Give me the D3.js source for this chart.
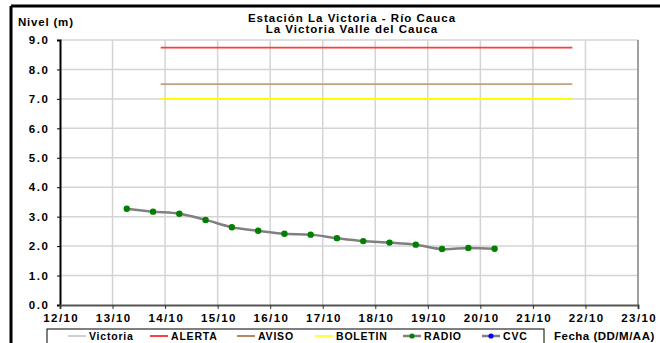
<!DOCTYPE html>
<html>
<head>
<meta charset="utf-8">
<script src="https://cdn.jsdelivr.net/npm/d3@7"></script>
<style>
  html, body { margin: 0; padding: 0; background: #fff; }
  svg { display: block; font-family: "Liberation Sans", Arial, sans-serif; font-weight: bold; }
</style>
</head>
<body>
<svg id="chart" width="660" height="343"></svg>
<script>
// Lecturas RADIO de la estación La Victoria (nivel en metros, cada 12 horas)
const fechasRadio = [
  "2011-10-13T06:30", "2011-10-13T18:30", "2011-10-14T06:30", "2011-10-14T18:30",
  "2011-10-15T06:30", "2011-10-15T18:30", "2011-10-16T06:30", "2011-10-16T18:30",
  "2011-10-17T06:30", "2011-10-17T18:30", "2011-10-18T06:30", "2011-10-18T18:30",
  "2011-10-19T06:30", "2011-10-19T18:30", "2011-10-20T06:30"
];
const nivelesRadio = [3.27, 3.17, 3.10, 2.89, 2.64, 2.52, 2.42, 2.39, 2.27, 2.17, 2.12, 2.05, 1.90, 1.94, 1.91];

// Umbrales de nivel
const umbralNombres = ["ALERTA", "AVISO", "BOLETIN"];
const umbralValores = [8.74, 7.5, 7.0];
const umbralColores = ["#ff3b3b", "#c4a07e", "#ffff00"];
const umbralInicio = "2011-10-13T22:00";
const umbralFin = "2011-10-21T18:00";

// Ejes
const dominioFechas = ["2011-10-12T00:00", "2011-10-23T00:00"];
const ticksNivel = [0, 1, 2, 3, 4, 5, 6, 7, 8, 9];

// Leyenda
const leyendaNombres = ["Victoria", "ALERTA", "AVISO", "BOLETIN", "RADIO", "CVC"];
const leyendaColores = ["#c0c0c0", "#ff0000", "#a0602a", "#ffff00", "#808080", "#808080"];
const leyendaMarcas = [null, null, null, null, "#008000", "#0000ff"];

const parse = d3.utcParse("%Y-%m-%dT%H:%M");
const svg = d3.select("#chart");

const m = { left: 60, right: 638, top: 40, bottom: 305 };
const x = d3.scaleUtc().domain(dominioFechas.map(parse)).range([m.left, m.right]);
const y = d3.scaleLinear().domain([0, 9]).range([m.bottom, m.top]);

// Marco exterior
svg.append("line").attr("x1", 11).attr("x2", 660).attr("y1", 6).attr("y2", 6)
  .attr("stroke", "#000").attr("stroke-width", 3);
svg.append("line").attr("x1", 11).attr("x2", 11).attr("y1", 6).attr("y2", 343)
  .attr("stroke", "#000").attr("stroke-width", 3);

// Cuadrícula
const dias = d3.utcDay.range(parse(dominioFechas[0]), d3.utcDay.offset(parse(dominioFechas[1]), 1));
svg.append("g").selectAll("line").data(dias.slice(1, -1)).join("line")
  .attr("x1", d => x(d)).attr("x2", d => x(d)).attr("y1", m.top).attr("y2", m.bottom)
  .attr("stroke", "#d4d4d4").attr("stroke-width", 1.5);
svg.append("g").selectAll("line").data(ticksNivel.slice(1)).join("line")
  .attr("x1", m.left).attr("x2", m.right).attr("y1", d => y(d)).attr("y2", d => y(d))
  .attr("stroke", "#d4d4d4").attr("stroke-width", 1.5);
// Borde derecho del área de trazado
svg.append("line").attr("x1", m.right).attr("x2", m.right).attr("y1", m.top).attr("y2", m.bottom)
  .attr("stroke", "#a0a0a0").attr("stroke-width", 2);

// Umbrales
umbralValores.forEach((v, i) => {
  svg.append("line")
    .attr("x1", x(parse(umbralInicio))).attr("x2", x(parse(umbralFin)))
    .attr("y1", y(v)).attr("y2", y(v))
    .attr("stroke", umbralColores[i]).attr("stroke-width", 1.6);
});

// Eje Y
const ejeY = svg.append("g").attr("transform", `translate(${m.left},0)`)
  .call(d3.axisLeft(y).tickValues(ticksNivel).tickFormat(d3.format(".1f")).tickSize(3).tickPadding(9));
ejeY.select(".domain").attr("stroke", "#000").attr("stroke-width", 2);
ejeY.selectAll(".tick line").attr("stroke", "#000");
ejeY.selectAll("text").attr("font-size", 11.5).attr("font-weight", "bold")
  .attr("font-family", "Liberation Sans, Arial, sans-serif").attr("fill", "#000")
  .attr("letter-spacing", 1.6).attr("dx", 1.6);

// Eje X
const ejeX = svg.append("g").attr("transform", `translate(0,${m.bottom})`)
  .call(d3.axisBottom(x).tickValues(dias.slice(0, 12)).tickFormat(d3.utcFormat("%d/%m")).tickSize(4).tickPadding(5));
ejeX.select(".domain").attr("stroke", "#555").attr("stroke-width", 2);
ejeX.selectAll(".tick line").attr("stroke", "#333");
ejeX.selectAll("text").attr("font-size", 11.5).attr("font-weight", "bold")
  .attr("font-family", "Liberation Sans, Arial, sans-serif").attr("fill", "#000")
  .attr("letter-spacing", 1.4).attr("dx", 0.7);

// Serie RADIO
const datos = fechasRadio.map((f, i) => ({ fecha: parse(f), nivel: nivelesRadio[i] }));
const linea = d3.line().x(d => x(d.fecha)).y(d => y(d.nivel)).curve(d3.curveCatmullRom.alpha(0.5));
svg.append("path").datum(datos).attr("d", linea)
  .attr("fill", "none").attr("stroke", "#808080").attr("stroke-width", 2.5);
svg.append("g").selectAll("circle").data(datos).join("circle")
  .attr("cx", d => x(d.fecha)).attr("cy", d => y(d.nivel)).attr("r", 3.2)
  .attr("fill", "#008000");

// Títulos
svg.append("text").attr("x", 352).attr("y", 22).attr("text-anchor", "middle")
  .attr("font-size", 11.5).attr("letter-spacing", 1).text("Estación La Victoria - Río Cauca");
svg.append("text").attr("x", 352).attr("y", 33).attr("text-anchor", "middle")
  .attr("font-size", 11.5).attr("letter-spacing", 1).text("La Victoria Valle del Cauca");
svg.append("text").attr("x", 18).attr("y", 26).attr("font-size", 11.5)
  .attr("letter-spacing", 0.8).text("Nivel (m)");
svg.append("text").attr("x", 554).attr("y", 340).attr("font-size", 11.5)
  .attr("letter-spacing", 0.5).text("Fecha (DD/M/AA)");

// Leyenda
svg.append("rect").attr("x", 47).attr("y", 329).attr("width", 497).attr("height", 20)
  .attr("fill", "#fff").attr("stroke", "#000").attr("stroke-width", 1);
const leyendaX = [68, 150, 237, 315, 403, 482];
leyendaNombres.forEach((n, i) => {
  const g = svg.append("g").attr("transform", `translate(${leyendaX[i]},336)`);
  g.append("line").attr("x1", 0).attr("x2", 18).attr("y1", 0).attr("y2", 0)
    .attr("stroke", leyendaColores[i]).attr("stroke-width", leyendaMarcas[i] ? 2.5 : 1.5);
  if (leyendaMarcas[i]) g.append("circle").attr("cx", 9).attr("cy", 0).attr("r", 2.6).attr("fill", leyendaMarcas[i]);
  g.append("text").attr("x", 21).attr("y", 4).attr("font-size", 10.5)
    .attr("letter-spacing", 0.8).text(n);
});
</script>
</body>
</html>
